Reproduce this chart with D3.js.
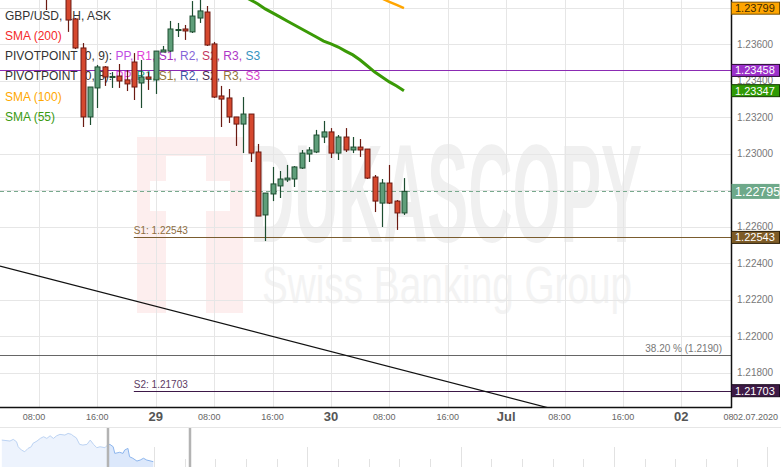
<!DOCTYPE html>
<html>
<head>
<meta charset="utf-8">
<script src="https://cdn.jsdelivr.net/npm/d3@7"></script>
<style>
  body { margin: 0; background: #fff; }
  svg { display: block; font-family: "Liberation Sans", Arial, sans-serif; }
</style>
</head>
<body>
<div id="chart"></div>
<script>
// GBP/USD 1H ask candles, hour offsets from 29 Jun 2020 00:00 UTC
var candleHours = [-15,-14,-13,-12,-11,-10,-9,-8,-7,-6,-5,-4,-3,-2,-1,0,1,2,3,4,5,6,7,8,9,10,
  11,12,13,14,15,16,17,18,19,20,21,22,23,24,25,26,27,28,29,30,31,32,33,34];
var opens = [1.23926,1.23871,1.23920,1.23888,1.23740,1.23581,1.23203,1.23362,1.23477,1.23419,
  1.23427,1.23406,1.23504,1.23389,1.23422,1.23406,1.23559,1.23564,1.23677,1.23685,
  1.23669,1.23745,1.23778,1.23603,1.23318,1.23307,1.23203,1.23164,1.23219,1.23011,
  1.22666,1.22781,1.22825,1.22858,1.22863,1.22923,1.23000,1.23011,1.23093,1.23121,
  1.23005,1.23093,1.23022,1.23038,1.23027,1.22874,1.22731,1.22841,1.22742,1.22677];
var highs = [1.24008,1.23950,1.23960,1.23926,1.23745,1.23608,1.23367,1.23488,1.23482,1.23449,
  1.23493,1.23460,1.23553,1.23515,1.23449,1.23564,1.23592,1.23729,1.23718,1.23707,
  1.23838,1.23855,1.23811,1.23614,1.23373,1.23356,1.23203,1.23312,1.23219,1.23055,
  1.22786,1.22929,1.22907,1.22940,1.22934,1.23022,1.23038,1.23132,1.23181,1.23142,
  1.23104,1.23142,1.23093,1.23082,1.23027,1.22885,1.22863,1.22940,1.22748,1.22868];
var lows = [1.23789,1.23855,1.23860,1.23669,1.23575,1.23148,1.23159,1.23252,1.23373,1.23362,
  1.23362,1.23345,1.23296,1.23252,1.23351,1.23329,1.23559,1.23559,1.23641,1.23625,
  1.23663,1.23718,1.23592,1.23307,1.23148,1.23170,1.23044,1.23005,1.22956,1.22660,
  1.22523,1.22742,1.22759,1.22847,1.22819,1.22918,1.22956,1.23005,1.23060,1.22978,
  1.22967,1.23011,1.23005,1.22984,1.22863,1.22682,1.22600,1.22726,1.22584,1.22666];
var closes = [1.23871,1.23920,1.23888,1.23734,1.23581,1.23203,1.23367,1.23477,1.23422,1.23425,
  1.23400,1.23384,1.23367,1.23422,1.23411,1.23564,1.23570,1.23685,1.23682,1.23674,
  1.23756,1.23784,1.23597,1.23312,1.23301,1.23203,1.23164,1.23219,1.23005,1.22660,
  1.22786,1.22836,1.22863,1.22868,1.22929,1.23005,1.23022,1.23104,1.23121,1.23005,
  1.23093,1.23022,1.23038,1.23022,1.22868,1.22742,1.22841,1.22731,1.22677,1.22795];

// moving averages
var sma55Hours = [12,13,14,15,16,17,18,19,20,21,22,23,24,25,26,27,28,29,30,31,32,33,34];
var sma55Values = [1.23866,1.23844,1.23822,1.23795,1.23773,1.23751,1.23729,1.23707,1.23685,
  1.23663,1.23641,1.23619,1.23603,1.23586,1.23564,1.23543,1.23515,1.23482,1.23449,1.23422,
  1.23395,1.23373,1.23347];
var sma100Hours = [30,31,32,33,34];
var sma100Values = [1.23871,1.23852,1.23833,1.23817,1.23799];

// trend line anchors
var trendHours = [-16, 48];
var trendValues = [1.22331, 1.21669];

// horizontal levels
var levelNames = ["PP", "S1", "S2", "fib"];
var levelValues = [1.23458, 1.22543, 1.21703, 1.2190];
var levelStartHours = [null, -3, -3, null];

// right side price tags
var tagNames = ["sma100", "pp", "sma55", "last", "s1", "s2"];
var tagValues = [1.23799, 1.23458, 1.23347, 1.22795, 1.22543, 1.21703];

var yTicks = [1.218, 1.220, 1.222, 1.224, 1.226, 1.228, 1.230, 1.232, 1.234, 1.236, 1.238];

// navigator history
var navHours = [-151,-141,-137,-133,-131,-127,-123,-119,-115,-113,-108,-104,-100,-96,-92,
  -88,-84,-80,-74,-70,-66,-64,-60,-56,-52,-47,-43,-39,-35,-31,-25,-22,-19,-15,-13,
  -7,-3,-1,3,5,9,14,18,22,26,34];
var navValues = [1.2435,1.2428,1.2440,1.2423,1.2387,1.2363,1.2351,1.2375,1.2387,1.2411,
  1.2428,1.2447,1.2459,1.2447,1.2466,1.2447,1.2466,1.2476,1.2471,1.2483,1.2476,1.2466,
  1.2451,1.2404,1.2399,1.2404,1.2435,1.2404,1.2380,1.2387,1.2380,1.2399,1.2404,1.2387,
  1.2339,1.2347,1.2339,1.2363,1.2375,1.2315,1.2304,1.2284,1.2291,1.2304,1.2291,1.22795];

var W = 781, H = 467, plotW = 731, plotH = 407;
var base = Date.UTC(2020, 5, 29);
function atHour(h) { return new Date(base + h * 36e5); }

var x = d3.scaleUtc()
    .domain([new Date("2020-06-28T02:40:00Z"), new Date("2020-07-02T06:48:00Z")])
    .range([0, plotW]);
var y = d3.scaleLinear().domain([1.216137, 1.238438]).range([plotH, 0]);

var svg = d3.select("#chart").append("svg")
    .attr("width", W).attr("height", H);

svg.append("defs").append("clipPath").attr("id", "plotclip")
  .append("rect").attr("width", plotW).attr("height", plotH);

// watermark
var wm = svg.append("g");
wm.append("rect").attr("x", 137).attr("y", 137).attr("width", 106).attr("height", 176)
  .attr("fill", "#fdeeee");
wm.append("rect").attr("x", 166).attr("y", 156).attr("width", 40).attr("height", 157)
  .attr("fill", "#fff");
wm.append("rect").attr("x", 150).attr("y", 181).attr("width", 80).attr("height", 30)
  .attr("fill", "#fff");
var sx1 = 0.44, sx2 = 0.74;
wm.append("text").attr("transform", "translate(250,242) scale(" + sx1 + ",1)")
  .attr("font-size", 140).attr("font-weight", "bold")
  .attr("textLength", 392 / sx1).attr("lengthAdjust", "spacingAndGlyphs")
  .attr("fill", "#f0f0f0").text("DUKASCOPY");
wm.append("text").attr("transform", "translate(262,303) scale(" + sx2 + ",1)")
  .attr("font-size", 52)
  .attr("textLength", 370 / sx2).attr("lengthAdjust", "spacingAndGlyphs")
  .attr("fill", "#f3f3f3").text("Swiss Banking Group");

// grid
var grid = svg.append("g").attr("stroke", "#e6e6e6").attr("stroke-width", 1);
grid.selectAll(".hg").data(yTicks).enter().append("line")
  .attr("x1", 0).attr("x2", plotW)
  .attr("y1", d => Math.round(y(d)) + 0.5).attr("y2", d => Math.round(y(d)) + 0.5);
var xTicks = d3.utcHour.range(new Date("2020-06-28T08:00:00Z"), new Date("2020-07-02T09:00:00Z"), 8);
grid.selectAll(".vg").data(xTicks.filter(d => x(d) < plotW)).enter().append("line")
  .attr("y1", 0).attr("y2", plotH)
  .attr("x1", d => Math.round(x(d)) + 0.5).attr("x2", d => Math.round(x(d)) + 0.5);

// legend
var legendLines = [
  [["GBP/USD, 1H, ASK", "#333"]],
  [["SMA (200)", "#f42a2a"]],
  [["PIVOTPOINT (0, 9): ", "#333"], ["PP, ", "#c04ee4"], ["R1, ", "#e23fd8"], ["S1, ", "#a22fbf"],
   ["R2, ", "#8466d8"], ["S2, ", "#c2385f"], ["R3, ", "#ae37c6"], ["S3", "#3593c0"]],
  [["PIVOTPOINT (0, 8): ", "#333"], ["PP, ", "#df4fe0"], ["R1, ", "#2aa283"], ["S1, ", "#92723a"],
   ["R2, ", "#4356a6"], ["S2, ", "#4a2a4c"], ["R3, ", "#93733f"], ["S3", "#d23fcc"]],
  [["SMA (100)", "#ffa800"]],
  [["SMA (55)", "#3a9a10"]]
];
var legendBaselines = [20, 40, 60, 80, 101, 121];
var lg = svg.append("g").attr("font-size", 12);
legendLines.forEach(function(parts, i) {
  var t = lg.append("text").attr("x", 5).attr("y", legendBaselines[i]);
  parts.forEach(function(p) { t.append("tspan").attr("fill", p[1]).text(p[0]); });
});

var plot = svg.append("g").attr("clip-path", "url(#plotclip)");

// level lines
var levelColor = { PP: "#8b2bb3", S1: "#7a5c2e", S2: "#3d1848", fib: "#666" };
levelNames.forEach(function(n, i) {
  var yy = Math.round(y(levelValues[i])) + 0.5;
  var x0 = levelStartHours[i] === null ? 0 : x(atHour(levelStartHours[i]));
  plot.append("line").attr("x1", x0).attr("x2", plotW).attr("y1", yy).attr("y2", yy)
    .attr("stroke", levelColor[n]).attr("stroke-width", 1);
});
// last price dashed line
var lastY = Math.round(y(closes[closes.length - 1])) + 0.5;
plot.append("line").attr("x1", 0).attr("x2", plotW).attr("y1", lastY).attr("y2", lastY)
  .attr("stroke", "#78a98d").attr("stroke-dasharray", "4,3");

// trend line, extended to the plot edges
var tx0 = x(atHour(trendHours[0])), tx1 = x(atHour(trendHours[1]));
var ty0 = y(trendValues[0]), ty1 = y(trendValues[1]);
var slope = (ty1 - ty0) / (tx1 - tx0);
plot.append("line").attr("x1", 0).attr("y1", ty0 - slope * tx0)
  .attr("x2", plotW).attr("y2", ty0 + slope * (plotW - tx0))
  .attr("stroke", "#111").attr("stroke-width", 1.2);

// SMA lines
var smaLine = d3.line().x(d => x(atHour(d[0]))).y(d => y(d[1]));
plot.append("path").datum(d3.zip(sma55Hours, sma55Values)).attr("d", smaLine)
  .attr("fill", "none").attr("stroke", "#3a9a06").attr("stroke-width", 3);
plot.append("path").datum(d3.zip(sma100Hours, sma100Values)).attr("d", smaLine)
  .attr("fill", "none").attr("stroke", "#ffa500").attr("stroke-width", 2.5);

// candles
var candles = candleHours.map(function(h, i) {
  return { t: atHour(h), o: opens[i], h: highs[i], l: lows[i], c: closes[i] };
});
var bodyW = (x(atHour(1)) - x(atHour(0))) * 0.68;
var cg = plot.selectAll(".candle").data(candles).enter().append("g");
cg.append("line")
  .attr("x1", d => Math.round(x(d.t)) + 0.5).attr("x2", d => Math.round(x(d.t)) + 0.5)
  .attr("y1", d => y(d.h)).attr("y2", d => y(d.l))
  .attr("stroke", d => d.c >= d.o ? "#1d4d30" : "#6b1a12").attr("stroke-width", 1.2);
cg.append("rect")
  .attr("x", d => Math.round(x(d.t)) + 0.5 - bodyW / 2)
  .attr("width", bodyW)
  .attr("y", d => y(Math.max(d.o, d.c)))
  .attr("height", d => Math.max(1, Math.abs(y(d.o) - y(d.c))))
  .attr("fill", d => d.c >= d.o ? "#5f9e7a" : "#d5482e")
  .attr("stroke", d => d.c >= d.o ? "#1d4d30" : "#6b1a12").attr("stroke-width", 1);

// level texts
svg.append("text").attr("x", x(atHour(levelStartHours[1]))).attr("y", y(levelValues[1]) - 3)
  .attr("font-size", 10).attr("fill", "#8c6d3f").text("S1: " + d3.format(".5f")(levelValues[1]));
svg.append("text").attr("x", x(atHour(levelStartHours[2]))).attr("y", y(levelValues[2]) - 3)
  .attr("font-size", 10).attr("fill", "#5c3b63").text("S2: " + d3.format(".5f")(levelValues[2]));
svg.append("text").attr("x", 722).attr("y", y(levelValues[3]) - 3).attr("text-anchor", "end")
  .attr("font-size", 10).attr("fill", "#777")
  .text("38.20 % (" + d3.format(".4f")(levelValues[3]) + ")");

// frame
svg.append("line").attr("x1", plotW + 0.5).attr("x2", plotW + 0.5).attr("y1", 0).attr("y2", plotH + 1)
  .attr("stroke", "#111").attr("stroke-width", 1.5);
svg.append("line").attr("x1", 0).attr("x2", plotW + 1).attr("y1", plotH + 0.5).attr("y2", plotH + 0.5)
  .attr("stroke", "#111").attr("stroke-width", 1.5);

// right axis labels (the ones fully covered by a price tag are not drawn)
var shownTicks = yTicks.filter(function(t) {
  return !tagValues.some(function(v) { return Math.abs(y(v) - y(t)) < 4; });
});
svg.append("g").attr("font-size", 10).attr("fill", "#777")
  .selectAll("text").data(shownTicks).enter().append("text")
  .attr("x", 737).attr("y", d => y(d)).attr("dy", "0.35em")
  .text(d => d3.format(".5f")(d));

// price tags
var tagStyle = {
  sma100: { bg: "#ffa500", fg: "#3d2a00", border: "#7a5200", h: 12, fs: 11 },
  pp:     { bg: "#9c30ca", fg: "#fff", border: "#2a0a35", h: 12, fs: 11 },
  sma55:  { bg: "#309a05", fg: "#fff", border: "#153d00", h: 12, fs: 11 },
  last:   { bg: "#6ea98a", fg: "#fff", border: "none", h: 15, fs: 12.5 },
  s1:     { bg: "#7d5b27", fg: "#fff", border: "#2e2008", h: 12, fs: 11 },
  s2:     { bg: "#3e1a46", fg: "#fff", border: "#1a0a1d", h: 12, fs: 11 }
};
tagNames.forEach(function(n, i) {
  var s = tagStyle[n], yy = y(tagValues[i]);
  svg.append("rect").attr("x", plotW + 0.5).attr("y", yy - s.h / 2)
    .attr("width", 48).attr("height", s.h)
    .attr("fill", s.bg).attr("stroke", s.border).attr("stroke-width", 1);
  svg.append("text").attr("x", plotW + 4).attr("y", yy).attr("dy", "0.36em")
    .attr("font-size", s.fs).attr("fill", s.fg).text(d3.format(".5f")(tagValues[i]));
});

// x axis labels
var hourFmt = d3.utcFormat("%H:%M");
xTicks.forEach(function(d) {
  var isDay = d.getUTCHours() === 0;
  var label = !isDay ? hourFmt(d) : (d.getUTCDate() === 1 ? d3.utcFormat("%b")(d) : d3.utcFormat("%d")(d));
  svg.append("text")
    .attr("x", x(d) + (d.getUTCHours() === 8 ? -5 : 0))
    .attr("y", isDay ? 421 : 419.5)
    .attr("text-anchor", "middle")
    .attr("font-size", isDay ? 13 : 9)
    .attr("font-weight", isDay ? "bold" : "normal")
    .attr("fill", isDay ? "#555" : "#666")
    .text(label);
});
svg.append("rect").attr("x", 733).attr("y", 409).attr("width", 48).attr("height", 16).attr("fill", "#fff");
svg.append("text").attr("x", 733).attr("y", 419.5).attr("font-size", 9).attr("fill", "#666")
  .text("02.07.2020");

// navigator
var navTop = 428;
svg.append("line").attr("x1", 0).attr("x2", W).attr("y1", navTop - 0.5).attr("y2", navTop - 0.5)
  .attr("stroke", "#e6e6e6");
var navX = d3.scaleUtc().domain([atHour(-153.2), atHour(800.5)]).range([0, W]);
var navY = d3.scaleLinear().domain([1.2241, 1.2522]).range([H, navTop]);
var tickScale = d3.scaleLinear().domain([0, 25]).range([0.7, 767.2]);
svg.append("g").attr("stroke", "#e2e2e2").selectAll("line").data(d3.range(1, 26)).enter().append("line")
  .attr("x1", d => Math.round(tickScale(d)) + 0.5).attr("x2", d => Math.round(tickScale(d)) + 0.5)
  .attr("y1", d => d % 5 === 0 ? 447 : 459).attr("y2", H);
var navData = d3.zip(navHours, navValues);
var navArea = d3.area().x(d => navX(atHour(d[0]))).y0(H).y1(d => navY(d[1]));
var navLine = d3.line().x(d => navX(atHour(d[0]))).y(d => navY(d[1]));
var selX0 = navX(x.domain()[0]), selX1 = navX(x.domain()[1]);
var defs = svg.select("defs");
defs.append("clipPath").attr("id", "navleft").append("rect")
  .attr("x", 0).attr("y", navTop).attr("width", selX0).attr("height", H - navTop);
defs.append("clipPath").attr("id", "navsel").append("rect")
  .attr("x", selX0).attr("y", navTop).attr("width", selX1 - selX0).attr("height", H - navTop);
var nl = svg.append("g").attr("clip-path", "url(#navleft)");
nl.append("path").datum(navData).attr("d", navArea).attr("fill", "#edf3fd");
nl.append("path").datum(navData).attr("d", navLine).attr("fill", "none").attr("stroke", "#bcd3f3");
var ns = svg.append("g").attr("clip-path", "url(#navsel)");
ns.append("path").datum(navData).attr("d", navArea).attr("fill", "#dce8fb");
ns.append("path").datum(navData).attr("d", navLine).attr("fill", "none").attr("stroke", "#8db6ee");
[selX0, selX1].forEach(function(px) {
  svg.append("line").attr("x1", px).attr("x2", px).attr("y1", navTop).attr("y2", H)
    .attr("stroke", "#b3b3b3").attr("stroke-width", 2.5);
});
</script>
</body>
</html>
